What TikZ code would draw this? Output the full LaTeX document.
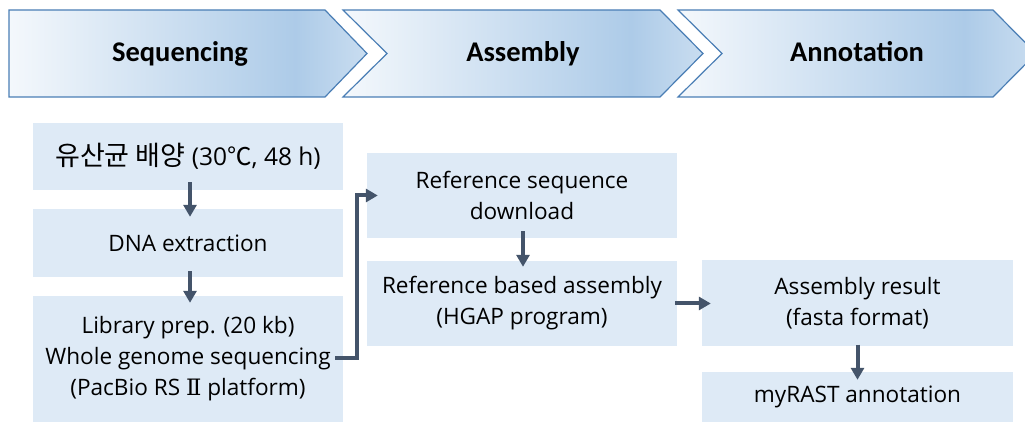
\documentclass[tikz,border=0pt]{standalone}
\usepackage{fontspec}
\setmainfont{Open Sans}
\newfontfamily\hdrfont{Carlito}
\newfontfamily\krfont{Noto Sans CJK KR}
\newfontfamily\romfont{DejaVu Serif}
\usetikzlibrary{arrows.meta,calc}
\definecolor{boxfill}{HTML}{DEEAF6}
\definecolor{arrowc}{HTML}{44546A}
\definecolor{chevline}{HTML}{4A7EB5}
\definecolor{chevL}{HTML}{F4F8FC}
\definecolor{chevM}{HTML}{ADCBE8}
\definecolor{chevR}{HTML}{C9DDF0}
\pgfdeclarehorizontalshading{chevshade}{100bp}{color(0bp)=(chevL); color(25bp)=(chevL); color(65bp)=(chevM); color(75bp)=(chevR); color(100bp)=(chevR)}
\begin{document}
\begin{tikzpicture}[x=1pt,y=1pt,
  chev/.style={shading=chevshade, draw=chevline, line width=1.2pt, line join=miter},
  hdr/.style={anchor=base, inner sep=0pt, font=\hdrfont\bfseries\fontsize{28.5}{32}\selectfont},
  stepbox/.style={fill=boxfill, draw=none, inner sep=0pt, align=center, minimum width=310pt, font=\fontsize{22.6}{31}\selectfont},
  arr/.style={draw=arrowc, line width=4pt, -{Triangle[length=12pt,width=13pt]}}
]
\useasboundingbox (0,0) rectangle (1025,422);
\clip (0,0) rectangle (1025,422);
% chevrons
\shadedraw[chev] (9,412) -- (325,412) -- (367,368.5) -- (325,325) -- (9,325) -- cycle;
\shadedraw[chev] (343,412) -- (660,412) -- (703,368.5) -- (660,325) -- (343,325) -- (387,368.5) -- cycle;
\shadedraw[chev] (678,412) -- (993,412) -- (1036,368.5) -- (993,325) -- (678,325) -- (722,368.5) -- cycle;
\node[hdr] (hseq) at (180,360) {Sequencing};
\node[hdr] (hasm) at (523,360) {Assembly};
\node[hdr] (hann) at (857,360) {Annotation};
% boxes
\node[stepbox, minimum height=67pt, font=\fontsize{24.5}{31}\selectfont] (A) at (188,265.5) {{\krfont\fontsize{27}{31}\selectfont 유산균 배양} (30{\krfont ℃}, 48 h)};
\node[stepbox, minimum height=68pt] (B) at (188,179) {DNA extraction};
\node[stepbox, minimum height=126pt] (C) at (188,63) {Library prep. (20 kb)\\Whole genome sequencing\\(PacBio RS {\romfont Ⅱ} platform)};
\node[stepbox, minimum height=85pt] (D) at (522,226.5) {Reference sequence\\download};
\node[stepbox, minimum height=85pt] (E) at (522,118.5) {Reference based assembly\\(HGAP program)};
\node[stepbox, minimum height=86pt, minimum width=311pt] (F) at (857.5,118.5) {Assembly result\\(fasta format)};
\node[stepbox, minimum height=50pt, minimum width=311pt] (G) at (857.5,25) {myRAST annotation};
% arrows
\draw[arr] ($(A.south)+(2,8)$) -- ($(B.north)+(2,-8)$);
\draw[arr] ($(B.south)+(2,6)$) -- ($(C.north)+(2,-7)$);
\draw[arr] ($(C.east)+(-8,1)$) -- ++(22,0) |- ($(D.west)+(11,0)$);
\draw[arr] ($(D.south)+(1,7)$) -- ($(E.north)+(1,-6)$);
\draw[arr] ($(E.east)+(-2,0)$) -- ($(F.west)+(9,0)$);
\draw[arr] ($(F.south)+(0,2)$) -- ($(G.north)+(0,-8)$);
\end{tikzpicture}
\end{document}
